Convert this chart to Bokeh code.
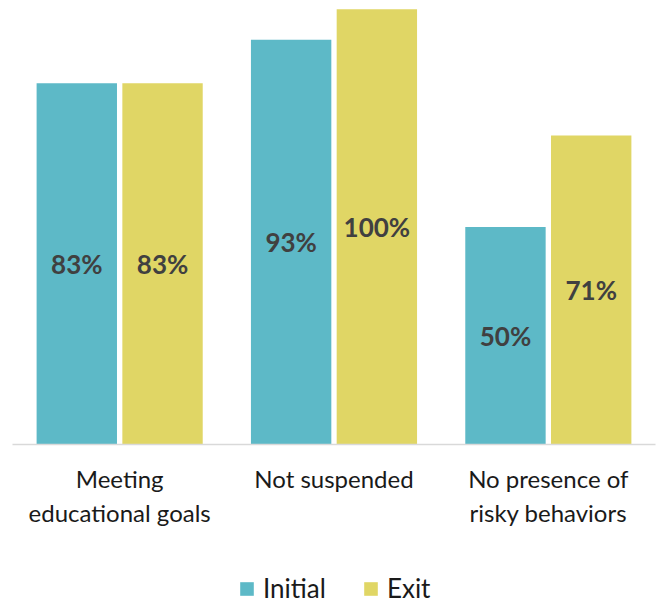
from bokeh.plotting import figure
from bokeh.layouts import column
from bokeh.models import ColumnDataSource, FactorRange, Range1d, Legend, LegendItem
from bokeh.transform import dodge
from bokeh.core.properties import value
from bokeh.embed import file_html
from bokeh.resources import INLINE

categories = ["Meeting\neducational goals", "Not suspended", "No presence of\nrisky behaviors"]
series = ["Initial", "Exit"]
initial = [83, 93, 50]
exit_vals = [83, 100, 71]
colors = ["#5DB9C7", "#E0D665"]

src = ColumnDataSource(dict(
    cat=categories,
    initial=initial,
    exit=exit_vals,
    initial_mid=[v / 2 for v in initial],
    exit_mid=[v / 2 for v in exit_vals],
    initial_lbl=[f"{v}%" for v in initial],
    exit_lbl=[f"{v}%" for v in exit_vals],
))

p = figure(width=657, height=570, output_backend="svg", toolbar_location=None,
           x_range=FactorRange(factors=categories), y_range=Range1d(0, 100.2),
           min_border_left=12, min_border_right=2, min_border_top=8, min_border_bottom=126)
p.outline_line_color = None
p.xgrid.grid_line_color = None
p.ygrid.grid_line_color = None
p.yaxis.visible = False

p.vbar(x=dodge("cat", -0.2, range=p.x_range), top="initial", width=0.375,
       source=src, fill_color=colors[0], line_color=None)
p.vbar(x=dodge("cat", 0.2, range=p.x_range), top="exit", width=0.375,
       source=src, fill_color=colors[1], line_color=None)

for off, ycol, tcol in [(-0.2, "initial_mid", "initial_lbl"), (0.2, "exit_mid", "exit_lbl")]:
    p.text(x=dodge("cat", off, range=p.x_range), y=ycol, text=tcol, source=src,
           text_align="center", text_baseline="middle", text_font=value("Lato"),
           text_font_style="bold", text_font_size="26px", text_color="#404040")

ax = p.xaxis[0]
ax.major_tick_line_color = None
ax.minor_tick_line_color = None
ax.axis_line_color = "#D9D9D9"
ax.axis_line_width = 1.5
ax.major_label_text_font = "Lato"
ax.major_label_text_font_size = "24px"
ax.major_label_text_color = "#1a1a1a"
ax.major_label_standoff = 13

# legend strip (series swatches kept outside the visible range)
lg = figure(width=657, height=36, output_backend="svg", toolbar_location=None,
            x_range=Range1d(0, 1), y_range=Range1d(0, 1),
            min_border_left=0, min_border_right=0, min_border_top=0, min_border_bottom=0)
lg.outline_line_color = None
lg.xaxis.visible = False
lg.yaxis.visible = False
lg.xgrid.grid_line_color = None
lg.ygrid.grid_line_color = None
lsrc = ColumnDataSource(dict(x=[-5], top=[-5]))
lr1 = lg.vbar(x="x", top="top", width=0.1, source=lsrc, fill_color=colors[0], line_color=None)
lr2 = lg.vbar(x="x", top="top", width=0.1, source=lsrc, fill_color=colors[1], line_color=None)

legend = Legend(items=[LegendItem(label=series[0], renderers=[lr1]),
                       LegendItem(label=series[1], renderers=[lr2])],
                orientation="horizontal", location=(226, 2))
legend.label_text_font = "Lato"
legend.label_text_font_size = "26px"
legend.label_text_color = "#1a1a1a"
legend.glyph_width = 17
legend.glyph_height = 17
legend.label_standoff = 8
legend.spacing = 36
legend.padding = 0
legend.margin = 0
legend.border_line_color = None
legend.background_fill_alpha = 0
lg.add_layout(legend)

layout = column(p, lg, spacing=0)
open("out.html", "w").write(file_html(layout, INLINE))
